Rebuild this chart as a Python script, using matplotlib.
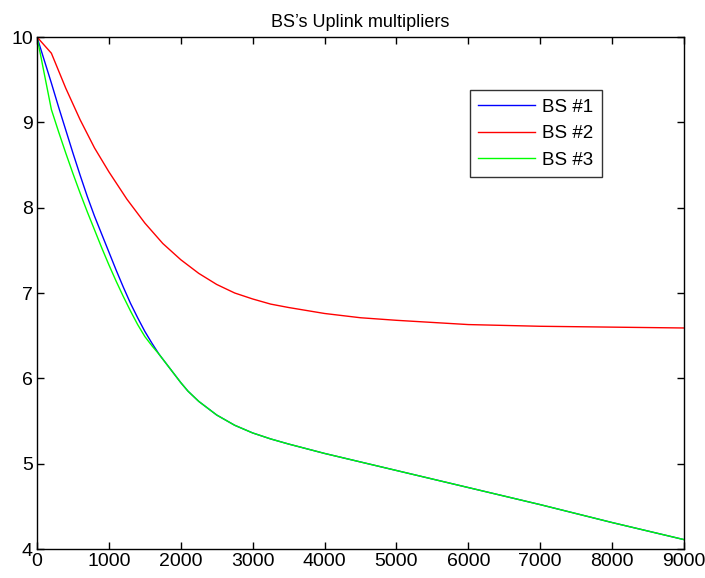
import matplotlib
matplotlib.use("Agg")
import matplotlib.pyplot as plt

plt.rcParams['font.family'] = ['Liberation Sans', 'DejaVu Sans']

# BS #2 multiplier per iteration
x_red = [0, 200, 400, 600, 800, 900, 1000, 1250, 1500, 1750, 2000, 2250, 2500, 2750,
         3000, 3250, 3500, 4000, 4500, 5000, 6000, 7000, 8000, 9000]
y_red = [10, 9.81, 9.40, 9.03, 8.70, 8.56, 8.42, 8.10, 7.82, 7.58, 7.39, 7.23, 7.10, 7.00,
         6.93, 6.87, 6.83, 6.76, 6.71, 6.68, 6.63, 6.61, 6.60, 6.59]

# BS #1 and BS #3 follow the same values after ~1700
x_tail = [1800, 1900, 2000, 2100, 2250, 2500, 2750, 3000, 3250, 3500, 4000,
          5000, 6000, 7000, 8000, 9000]
y_tail = [6.17, 6.06, 5.95, 5.85, 5.73, 5.57, 5.45, 5.36, 5.29, 5.23, 5.12,
          4.92, 4.72, 4.52, 4.31, 4.11]

x_blue_head = [0, 100, 200, 300, 400, 500, 600, 700, 800, 900, 1000, 1100, 1200,
               1300, 1400, 1500, 1600, 1700]
y_blue_head = [10, 9.73, 9.46, 9.18, 8.91, 8.64, 8.38, 8.13, 7.90, 7.69, 7.48, 7.27, 7.07,
               6.88, 6.71, 6.55, 6.41, 6.28]

x_green_head = [0, 200, 300, 400, 500, 600, 700, 800, 900, 1000, 1100, 1200,
                1300, 1400, 1500, 1600, 1700]
y_green_head = [10, 9.15, 8.89, 8.64, 8.40, 8.17, 7.95, 7.74, 7.53, 7.33, 7.14, 6.96,
                6.79, 6.63, 6.49, 6.38, 6.28]

x_blue = x_blue_head + x_tail
y_blue = y_blue_head + y_tail
x_green = x_green_head + x_tail
y_green = y_green_head + y_tail

fig = plt.figure(figsize=(7.05, 5.78), dpi=100)
ax = fig.add_axes([37 / 705, 1 - 549 / 578, 647 / 705, 512 / 578])

ax.plot(x_blue, y_blue, color='#0000ff', lw=1.0, label='BS #1')
ax.plot(x_red, y_red, color='#ff0000', lw=1.0, label='BS #2')
ax.plot(x_green, y_green, color='#00ff00', lw=1.0, label='BS #3')

ax.set_xlim(0, 9000)
ax.set_ylim(4, 10)
ax.set_xticks(range(0, 9001, 1000))
ax.set_yticks(range(4, 11))
ax.tick_params(direction='in', top=True, right=True, length=5, width=1,
               labelsize=14, pad=3)
for s in ax.spines.values():
    s.set_linewidth(1.0)

ax.set_title("BS\u2019s Uplink multipliers", fontsize=13, pad=7)

leg = ax.legend(loc='upper right', bbox_to_anchor=(0.873, 0.896), borderaxespad=0,
                fancybox=False, edgecolor='black', fontsize=13.5, handlelength=3.0,
                handletextpad=0.4, labelspacing=0.5, borderpad=0.45)
leg.get_frame().set_linewidth(1.0)

fig.savefig('out.png', dpi=100)
